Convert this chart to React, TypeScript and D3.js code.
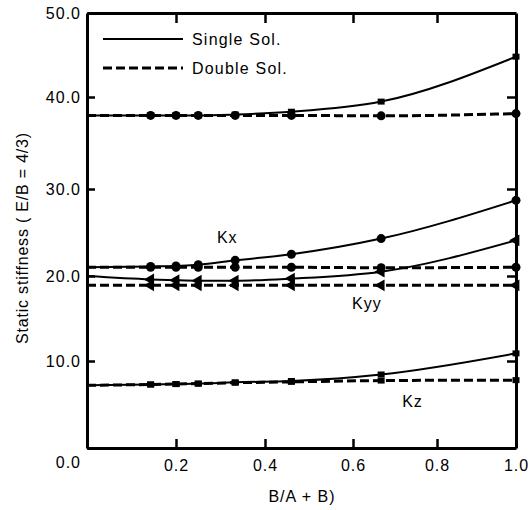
import React, { useRef, useEffect } from 'react';
import * as d3 from 'd3';

// B/(A+B) sample positions (x = 0 is only the curve start, no marker)
const xValues = [0, 0.143, 0.2, 0.25, 0.333, 0.46, 0.667, 1.0];

const topSingle = [38.0, 38.0, 38.0, 38.0, 38.1, 38.4, 39.5, 44.8];
const topDouble = [38.0, 38.0, 38.0, 38.0, 38.0, 38.0, 37.95, 38.2];
const kxSingle = [21.0, 21.1, 21.15, 21.3, 21.8, 22.5, 24.3, 28.7];
const kxDouble = [21.0, 21.0, 21.0, 21.0, 21.0, 21.0, 20.95, 21.0];
const kyySingle = [20.0, 19.6, 19.5, 19.45, 19.45, 19.7, 20.5, 24.1];
const kyyDouble = [18.9, 18.9, 18.9, 18.9, 18.9, 18.9, 18.9, 18.9];
const kzSingle = [7.2, 7.3, 7.35, 7.4, 7.55, 7.7, 8.45, 10.9];
const kzDouble = [7.2, 7.3, 7.35, 7.4, 7.5, 7.6, 7.75, 7.8];

const xTicks = [0.2, 0.4, 0.6, 0.8, 1.0];
const yTicks = [0, 10, 20, 30, 40, 50];
const legendLabels = ['Single Sol.', 'Double Sol.'];

const FONT = '"Liberation Sans", Arial, Helvetica, sans-serif';

const series = [
  { values: topDouble, dashed: true, marker: 'circle' },
  { values: kxDouble, dashed: true, marker: 'circle' },
  { values: kyyDouble, dashed: true, marker: 'triangle' },
  { values: kzDouble, dashed: true, marker: 'square' },
  { values: topSingle, dashed: false, marker: 'square' },
  { values: kxSingle, dashed: false, marker: 'circle' },
  { values: kyySingle, dashed: false, marker: 'triangle' },
  { values: kzSingle, dashed: false, marker: 'square' },
];

const App = () => {
  const svgRef = useRef(null);
  const width = 532;
  const height = 510;

  useEffect(() => {
    const svg = d3.select(svgRef.current);
    svg.selectAll('*').remove();

    // the scanned axes are slightly uneven, so the scales follow the printed ticks
    const x = d3.scaleLinear()
      .domain([0, 0.2, 0.4, 0.6, 0.8, 1.0])
      .range([87, 176, 265, 353, 437, 516]);
    const y = d3.scaleLinear()
      .domain([0, 10, 20, 30, 40, 50])
      .range([448, 361, 276, 189, 97, 13]);

    const styleAxis = (g) => {
      g.select('.domain').attr('stroke', '#000').attr('stroke-width', 3);
      g.selectAll('.tick line').attr('stroke', '#000').attr('stroke-width', 2.5);
      g.selectAll('.tick text')
        .attr('fill', '#000')
        .attr('font-family', FONT)
        .attr('font-size', 16)
        .style('letter-spacing', '1px');
    };

    svg.append('g')
      .attr('transform', `translate(${x(0)},0)`)
      .call(d3.axisLeft(y).tickValues(yTicks).tickSizeInner(-8).tickSizeOuter(0)
        .tickPadding(6).tickFormat(d3.format('.1f')))
      .call(styleAxis)
      .call(g => g.selectAll('.tick').filter(d => d === 0).select('text').attr('dy', '1.2em'));

    svg.append('g')
      .attr('transform', `translate(${x(1)},0)`)
      .call(d3.axisRight(y).tickValues(yTicks.slice(1, -1)).tickSizeInner(-9).tickSizeOuter(0).tickFormat(() => ''))
      .call(styleAxis);

    svg.append('g')
      .attr('transform', `translate(0,${y(0)})`)
      .call(d3.axisBottom(x).tickValues(xTicks).tickSizeInner(-9).tickSizeOuter(0)
        .tickPadding(12).tickFormat(d3.format('.1f')))
      .call(styleAxis)
      .call(g => g.selectAll('.tick').filter(d => d === 1).select('line').remove());

    svg.append('g')
      .attr('transform', `translate(0,${y(50)})`)
      .call(d3.axisTop(x).tickValues(xTicks.slice(0, -1)).tickSizeInner(-10).tickSizeOuter(0).tickFormat(() => ''))
      .call(styleAxis);

    const line = d3.line()
      .x((d, i) => x(xValues[i]))
      .y(d => y(d))
      .curve(d3.curveMonotoneX);

    const plot = svg.append('g');

    series.forEach(s => {
      plot.append('path')
        .attr('d', line(s.values))
        .attr('fill', 'none')
        .attr('stroke', '#000')
        .attr('stroke-width', s.dashed ? 3 : 2)
        .attr('stroke-dasharray', s.dashed ? '9,4' : null);
    });

    series.forEach(s => {
      const pts = s.values.map((v, i) => [xValues[i], v]).slice(1);
      const g = plot.append('g');
      if (s.marker === 'circle') {
        g.selectAll('circle').data(pts).enter().append('circle')
          .attr('cx', d => x(d[0]))
          .attr('cy', d => y(d[1]))
          .attr('r', 4.5)
          .attr('fill', '#000');
      } else if (s.marker === 'square') {
        g.selectAll('rect').data(pts).enter().append('rect')
          .attr('x', d => x(d[0]) - 3.5)
          .attr('y', d => y(d[1]) - 3)
          .attr('width', 7)
          .attr('height', 6)
          .attr('fill', '#000');
      } else {
        g.selectAll('path').data(pts).enter().append('path')
          .attr('d', d3.symbol(d3.symbolTriangle, 60))
          .attr('transform', d => `translate(${x(d[0])},${y(d[1])}) rotate(-90)`)
          .attr('fill', '#000');
      }
    });

    // curve labels
    const curveLabels = [
      { text: 'Kx', x: 0.292, y: 23.8 },
      { text: 'Kyy', x: 0.598, y: 16.1 },
      { text: 'Kz', x: 0.717, y: 4.7 },
    ];
    svg.selectAll('.curve-label').data(curveLabels).enter().append('text')
      .attr('class', 'curve-label')
      .attr('x', d => x(d.x))
      .attr('y', d => y(d.y))
      .attr('font-family', FONT)
      .attr('font-size', 16)
      .style('letter-spacing', '1px')
      .text(d => d.text);

    // legend
    const legend = svg.append('g').attr('transform', 'translate(103,39)');
    legendLabels.forEach((label, i) => {
      legend.append('line')
        .attr('x1', 0).attr('x2', 80)
        .attr('y1', i * 29).attr('y2', i * 29)
        .attr('stroke', '#000')
        .attr('stroke-width', i === 0 ? 2 : 3)
        .attr('stroke-dasharray', i === 0 ? null : '9,4');
      legend.append('text')
        .attr('x', 89)
        .attr('y', i * 29)
        .attr('dy', '0.35em')
        .attr('font-family', FONT)
        .attr('font-size', 16)
        .style('letter-spacing', '1.2px')
        .text(label);
    });

    // axis titles
    svg.append('text')
      .attr('transform', 'translate(22,238) rotate(-90)')
      .attr('text-anchor', 'middle')
      .attr('dy', '0.35em')
      .attr('font-family', FONT)
      .attr('font-size', 16)
      .style('letter-spacing', '0.8px')
      .text('Static stiffness ( E/B = 4/3)');

    svg.append('text')
      .attr('x', 302)
      .attr('y', 502)
      .attr('text-anchor', 'middle')
      .attr('font-family', FONT)
      .attr('font-size', 16)
      .style('letter-spacing', '1px')
      .text('B/A + B)');
  }, []);

  return (
    <svg
      ref={svgRef}
      width={width}
      height={height}
      viewBox={`0 0 ${width} ${height}`}
      style={{ position: 'absolute', left: 0, top: 0, background: '#fff' }}
    ></svg>
  );
};

export default App;
